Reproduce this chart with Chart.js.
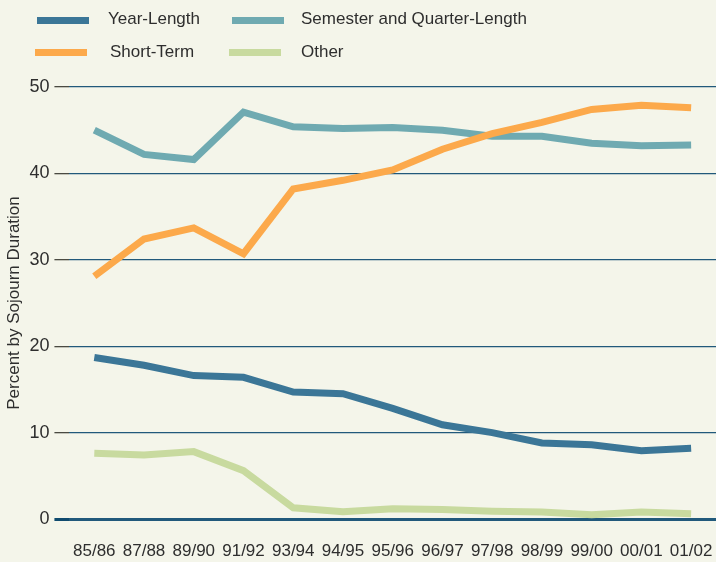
<!DOCTYPE html>
<html>
<head>
<meta charset="utf-8">
<script src="https://cdn.jsdelivr.net/npm/chart.js@4.4.1/dist/chart.umd.min.js"></script>
<style>
  html, body { margin: 0; padding: 0; background: #f4f5ea; }
  #wrap { position: relative; width: 716px; height: 562px; }
  canvas { position: absolute; left: 0; top: 0; }
  .lg { position: absolute; font-family: "Liberation Sans", Arial, sans-serif; font-size: 17px; color: #2e2e2e; line-height: 20px; white-space: nowrap; }
  .sw { position: absolute; width: 52px; height: 7px; }
</style>
</head>
<body>
<div id="wrap">
  <canvas id="chart" width="716" height="562"></canvas>
  <div id="legend"></div>
</div>
<script>
// school years
const years = ['85/86', '87/88', '89/90', '91/92', '93/94', '94/95', '95/96', '96/97', '97/98', '98/99', '99/00', '00/01', '01/02'];

// percent by sojourn duration
const yearLength = [18.7, 17.8, 16.6, 16.4, 14.7, 14.5, 12.8, 10.9, 10.0, 8.8, 8.6, 7.9, 8.2];
const semesterQuarter = [45.0, 42.2, 41.6, 47.1, 45.4, 45.2, 45.3, 45.0, 44.3, 44.3, 43.5, 43.2, 43.3];
const shortTerm = [28.1, 32.4, 33.7, 30.7, 38.2, 39.2, 40.4, 42.8, 44.6, 45.9, 47.4, 47.9, 47.6];
const other = [7.6, 7.4, 7.8, 5.6, 1.3, 0.85, 1.2, 1.1, 0.9, 0.8, 0.5, 0.8, 0.6];

const yTicks = [0, 10, 20, 30, 40, 50];

const FONT = '"Liberation Sans", Arial, sans-serif';

const series = [
    { label: 'Year-Length', data: yearLength, color: '#3b7697', order: 3 },
    { label: 'Semester and Quarter-Length', data: semesterQuarter, color: '#6faab1', order: 2 },
    { label: 'Short-Term', data: shortTerm, color: '#fca94b', order: 1 },
    { label: 'Other', data: other, color: '#c8da9f', order: 4 }
];

// legend (two rows, two columns)
const legendPos = [
    { sx: 37, sy: 17, tx: 108, ty: 9 },
    { sx: 232, sy: 17, tx: 301, ty: 9 },
    { sx: 35, sy: 49, tx: 110, ty: 42 },
    { sx: 229, sy: 49, tx: 301, ty: 42 }
];
const legendEl = document.getElementById('legend');
series.forEach((s, i) => {
    const p = legendPos[i];
    const sw = document.createElement('div');
    sw.className = 'sw';
    sw.style.left = p.sx + 'px';
    sw.style.top = p.sy + 'px';
    sw.style.background = s.color;
    legendEl.appendChild(sw);
    const t = document.createElement('div');
    t.className = 'lg';
    t.style.left = p.tx + 'px';
    t.style.top = p.ty + 'px';
    t.textContent = s.label;
    legendEl.appendChild(t);
});

const ctx = document.getElementById('chart').getContext('2d');
new Chart(ctx, {
    type: 'line',
    data: {
        labels: years,
        datasets: series.map(s => ({
            label: s.label,
            data: s.data,
            borderColor: s.color,
            backgroundColor: s.color,
            borderWidth: 7,
            pointRadius: 0,
            tension: 0,
            borderCapStyle: 'butt',
            borderJoinStyle: 'miter',
            order: s.order
        }))
    },
    options: {
        responsive: false,
        animation: false,
        layout: { padding: { top: 87, right: 0, bottom: 0, left: 0 } },
        plugins: {
            legend: { display: false },
            tooltip: { enabled: false }
        },
        scales: {
            x: {
                offset: true,
                grid: { display: false, drawTicks: false },
                border: { display: false },
                ticks: {
                    color: '#2e2e2e',
                    font: { family: FONT, size: 17 },
                    padding: 22,
                    maxRotation: 0,
                    autoSkip: false
                },
                afterFit: s => {
                    s.height = 43;
                    s.paddingLeft = 0;
                    s.paddingRight = 0;
                }
            },
            y: {
                min: 0,
                max: 50,
                afterBuildTicks: axis => { axis.ticks = yTicks.map(v => ({ value: v })); },
                grid: {
                    color: '#21597b',
                    lineWidth: c => (c.tick && c.tick.value === 0 ? 3 : 1.3),
                    tickColor: c => (c.tick && c.tick.value === 0 ? '#0f4a6e' : '#4a4a42'),
                    tickLength: 15,
                    drawTicks: true
                },
                border: { display: false },
                ticks: {
                    color: '#2e2e2e',
                    font: { family: FONT, size: 18 },
                    padding: 5
                },
                title: {
                    display: true,
                    text: 'Percent by Sojourn Duration',
                    color: '#2e2e2e',
                    font: { family: FONT, size: 17 },
                    padding: { top: 4, bottom: 0 }
                }
            }
        }
    }
});
</script>
</body>
</html>
